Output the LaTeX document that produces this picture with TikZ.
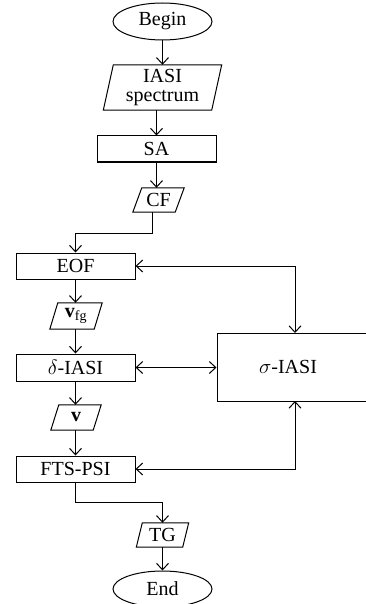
\documentclass[tikz,border=0pt]{standalone}
\usepackage{fontspec}
\setmainfont{Liberation Serif}
\usetikzlibrary{arrows.meta,shapes.geometric,calc}
\tikzset{
  txt/.style={font=\fontsize{20}{18.5}\selectfont},
  box/.style={txt, draw, line width=1pt, rectangle, inner sep=0pt},
  term/.style={txt, draw, line width=1pt, ellipse, inner sep=0pt},
  io/.style={txt, rectangle, inner sep=0pt, align=center},
  con/.style={line width=1pt, -{Straight Barb[length=6.5pt,width=12pt,line width=1pt]}},
  bicon/.style={line width=1pt, {Straight Barb[length=6.5pt,width=12pt,line width=1pt]}-{Straight Barb[length=6.5pt,width=12pt,line width=1pt]}},
}
\newcommand{\para}[2]{\draw[line width=1pt] ($(#1.north west)+(#2,0)$) -- ($(#1.north east)+(#2,0)$) -- ($(#1.south east)-(#2,0)$) -- ($(#1.south west)-(#2,0)$) -- cycle;}
\begin{document}
\begin{tikzpicture}[x=1pt,y=-1pt]
\useasboundingbox (0,0) rectangle (365,604);
% terminals
\node[term, minimum width=99pt, minimum height=37pt] (begin) at (162.5,21.5) {Begin};
\node[term, minimum width=99pt, minimum height=36pt] (end) at (162.5,589) {End};
% io parallelograms
\node[io, minimum width=108pt, minimum height=45pt] (iasi) at (162.5,87.5) {IASI\\spectrum};
\para{iasi}{5}
\node[io, minimum width=42pt, minimum height=24pt] (cf) at (158.5,200) {CF};
\para{cf}{4.5}
\node[io, minimum width=44pt, minimum height=26pt] (vfg) at (76,316) {$\mathbf{v}_{\mathrm{fg}}$};
\para{vfg}{4}
\node[io, minimum width=42pt, minimum height=25pt] (v) at (76,417.5) {$\mathbf{v}$};
\para{v}{4}
\node[io, minimum width=46pt, minimum height=24pt] (tg) at (162.5,535) {TG};
\para{tg}{3}
% process boxes
\node[box, minimum width=119pt, minimum height=26pt] (sa) at (156.5,149) {SA};
\node[box, minimum width=119pt, minimum height=26pt] (eof) at (75.5,266) {EOF};
\node[box, minimum width=119pt, minimum height=27pt] (delta) at (75.5,367.5) {$\delta$-IASI};
\node[box, minimum width=119pt, minimum height=26pt] (fts) at (75.5,469) {FTS-PSI};
\node[box, minimum width=151pt, minimum height=68pt] (sigma) at (292.5,367) {};
\node[txt] (sigmalabel) at (288,367) {$\sigma$-IASI};
% connectors
\draw[con] (begin.south) -- (begin.south |- iasi.north);
\draw[con] (iasi.south -| sa.north) -- (sa.north);
\draw[con] (sa.south) -- (sa.south |- cf.north);
\coordinate (cfout) at ($(cf.south)+(-6.5,0)$);
\draw[con] (cfout) -- ++(0,21) -| (eof.north);
\draw[con] (eof.south) -- (eof.south |- vfg.north);
\draw[con] (vfg.south -| delta.north) -- (delta.north);
\draw[con] (delta.south) -- (delta.south |- v.north);
\draw[con] (v.south -| fts.north) -- (fts.north);
\draw[con] (fts.south) -- ++(0,20) -| (tg.north);
\draw[con] (tg.south) -- (tg.south |- end.north);
\coordinate (sigtop) at (295,333);
\coordinate (sigbot) at (295,401);
\draw[bicon] (eof.east) -| (sigtop);
\draw[bicon] (delta.east) -- (delta.east -| sigma.west);
\draw[bicon] (fts.east) -| (sigbot);
\end{tikzpicture}
\end{document}
